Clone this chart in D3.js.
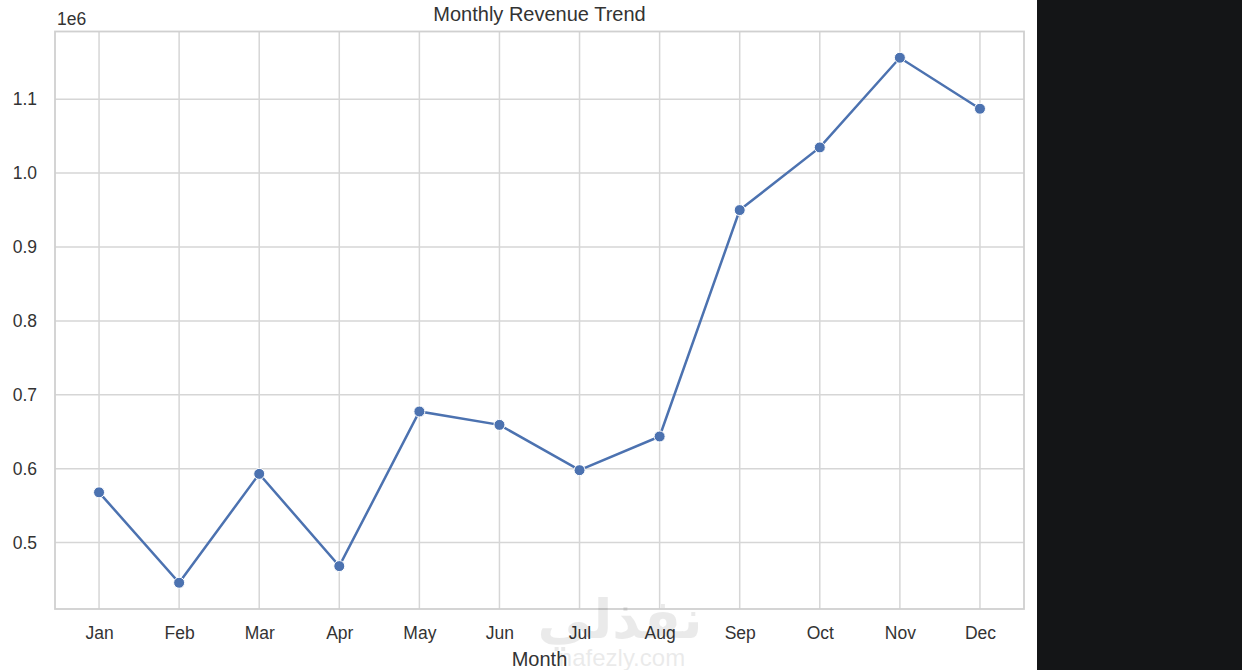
<!DOCTYPE html>
<html>
<head>
<meta charset="utf-8">
<script src="https://cdn.jsdelivr.net/npm/d3@7"></script>
<style>
  body { margin: 0; background: #fff; overflow: hidden; }
  svg { display: block; font-family: "Liberation Sans", Arial, sans-serif; }
</style>
</head>
<body>
<script>
// monthly revenue
const months = ["Jan", "Feb", "Mar", "Apr", "May", "Jun", "Jul", "Aug", "Sep", "Oct", "Nov", "Dec"];
const revenue = [568000, 445700, 593000, 468200, 677400, 659300, 598000, 643600, 949900, 1034700, 1156000, 1087000];
const yTicks = [500000, 600000, 700000, 800000, 900000, 1000000, 1100000];

const W = 1242, H = 670;
const margin = { left: 55, right: 218, top: 31.5, bottom: 61 };
const width = W - margin.left - margin.right;
const height = H - margin.top - margin.bottom;

const svg = d3.select("body").append("svg")
    .attr("width", W)
    .attr("height", H);

// dark strip at the right side of the screenshot
svg.append("rect")
    .attr("x", 1037).attr("y", 0)
    .attr("width", W - 1037).attr("height", H)
    .attr("fill", "#141517");

const g = svg.append("g")
    .attr("transform", `translate(${margin.left}, ${margin.top})`);

// matplotlib style 5% margins
const n = months.length;
const x = d3.scaleLinear()
    .domain([-0.05 * (n - 1), (n - 1) * 1.05])
    .range([0, width]);
const lo = d3.min(revenue), hi = d3.max(revenue);
const pad = (hi - lo) * 0.05;
const y = d3.scaleLinear()
    .domain([lo - pad, hi + pad])
    .range([height, 0]);

// grid
g.append("g")
    .selectAll("line")
    .data(months)
    .join("line")
    .attr("x1", (d, i) => x(i)).attr("x2", (d, i) => x(i))
    .attr("y1", 0).attr("y2", height)
    .attr("stroke", "#d6d6d6").attr("stroke-width", 1.5);
g.append("g")
    .selectAll("line")
    .data(yTicks)
    .join("line")
    .attr("x1", 0).attr("x2", width)
    .attr("y1", d => y(d)).attr("y2", d => y(d))
    .attr("stroke", "#d6d6d6").attr("stroke-width", 1.5);

// frame
g.append("rect")
    .attr("width", width).attr("height", height)
    .attr("fill", "none")
    .attr("stroke", "#d0d0d0").attr("stroke-width", 1.8);

// axes
const xAxis = g.append("g")
    .attr("transform", `translate(0, ${height})`)
    .call(d3.axisBottom(x).tickValues(d3.range(n)).tickFormat(i => months[i]).tickSize(0).tickPadding(18));
const yAxis = g.append("g")
    .call(d3.axisLeft(y).tickValues(yTicks).tickFormat(d => (d / 1e6).toFixed(1)).tickSize(0).tickPadding(18));
[xAxis, yAxis].forEach(a => {
    a.select(".domain").remove();
    a.selectAll("text").attr("fill", "#333").style("font-size", "17.5px");
});

// the line
const line = d3.line()
    .x((d, i) => x(i))
    .y(d => y(d));
g.append("path")
    .datum(revenue)
    .attr("d", line)
    .attr("fill", "none")
    .attr("stroke", "#4c72b0")
    .attr("stroke-width", 2.5);

g.selectAll(".dot")
    .data(revenue)
    .join("circle")
    .attr("class", "dot")
    .attr("cx", (d, i) => x(i))
    .attr("cy", d => y(d))
    .attr("r", 5.5)
    .attr("fill", "#4c72b0")
    .attr("stroke", "#fff")
    .attr("stroke-width", 1);

// texts
svg.append("text")
    .attr("x", margin.left + width / 2).attr("y", 21)
    .attr("text-anchor", "middle")
    .attr("fill", "#333").style("font-size", "20px")
    .text("Monthly Revenue Trend");
svg.append("text")
    .attr("x", 57).attr("y", 25)
    .attr("fill", "#333").style("font-size", "17.5px")
    .text("1e6");
svg.append("text")
    .attr("transform", `translate(-3, ${margin.top + height / 2}) rotate(-90)`)
    .attr("text-anchor", "middle")
    .attr("fill", "#333").style("font-size", "20px")
    .text("Revenue");
svg.append("text")
    .attr("x", margin.left + width / 2).attr("y", 666)
    .attr("text-anchor", "middle")
    .attr("fill", "#333").style("font-size", "20px")
    .text("Month");

// faint watermark
svg.append("text")
    .attr("x", 620).attr("y", 638)
    .attr("text-anchor", "middle")
    .attr("fill", "#000").attr("opacity", 0.08)
    .style("font-size", "54px").style("font-weight", "bold")
    .style("font-family", "'DejaVu Sans', sans-serif")
    .text("نفذلي");
svg.append("text")
    .attr("x", 622).attr("y", 666)
    .attr("text-anchor", "middle")
    .attr("fill", "#000").attr("opacity", 0.08)
    .style("font-size", "24px")
    .text("nafezly.com");
</script>
</body>
</html>
